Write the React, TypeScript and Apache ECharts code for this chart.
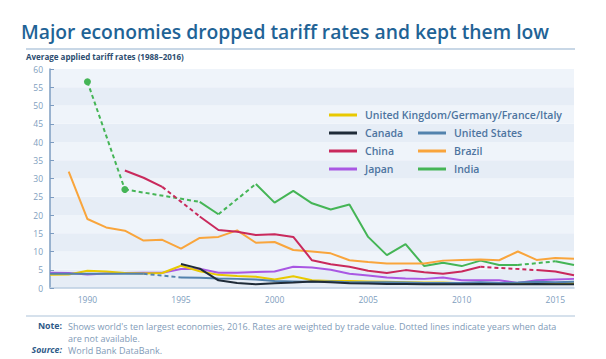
import React, { useEffect, useRef } from "react";
import * as echarts from "echarts";

const years = [
  "1988", "1989", "1990", "1991", "1992", "1993", "1994", "1995", "1996", "1997",
  "1998", "1999", "2000", "2001", "2002", "2003", "2004", "2005", "2006", "2007",
  "2008", "2009", "2010", "2011", "2012", "2013", "2014", "2015", "2016",
];

const euValues = [3.6, 3.7, 4.7, 4.5, 4.1, 4.0, 4.1, 6.1, 4.6, 3.6, 3.3, 3.1, 2.3, 3.2, 2.1, 1.9, 1.9, 1.8, 1.7, 1.6, 1.5, 1.5, 1.3, 1.4, 1.3, 1.2, 1.3, 1.3, 1.3];
const canadaValues = [null, null, null, null, null, null, null, 6.6, 5.3, 2.1, 1.4, 1.0, 1.3, 1.5, 1.8, 1.6, 1.3, 1.2, 1.1, 1.1, 1.0, 1.0, 1.0, 1.1, 1.0, 1.0, 1.1, 1.0, 1.0];
const usValues = [3.9, 3.9, 3.9, 3.9, 3.9, 3.9, null, 2.9, 2.8, 2.6, 2.5, 2.3, 1.9, 1.8, 1.7, 1.8, 1.6, 1.6, 1.6, 1.5, 1.4, 1.4, 1.4, 1.6, 1.4, 1.5, 1.7, 1.6, 1.7];
const chinaValues = [null, null, null, null, 32.2, 30.2, 27.7, null, 19.6, 15.9, 15.4, 14.5, 14.7, 14.0, 7.6, 6.5, 5.8, 4.7, 4.1, 4.9, 4.3, 3.9, 4.5, 5.8, null, null, 4.9, 4.5, 3.5];
const brazilValues = [null, 31.9, 18.9, 16.6, 15.7, 13.0, 13.2, 10.8, 13.7, 14.0, 15.8, 12.4, 12.6, 10.4, 10.0, 9.5, 7.6, 7.1, 6.7, 6.7, 6.7, 7.5, 7.7, 7.8, 7.6, 10.0, 7.7, 8.2, 8.0];
const japanValues = [4.2, 4.1, 3.7, 4.0, 4.1, 4.2, 4.2, 5.2, 5.3, 4.2, 4.2, 4.4, 4.5, 5.8, 5.6, 5.0, 3.9, 3.4, 2.9, 2.6, 2.5, 2.9, 2.1, 2.1, 2.1, 1.4, 2.1, 2.3, 2.5];
const indiaValues = [null, null, 56.5, null, 27.0, null, null, null, 23.6, 20.2, null, 28.5, 23.4, 26.6, 23.2, 21.5, 22.9, 14.0, 9.0, 12.0, 6.0, 6.9, 6.0, 7.5, 6.3, 6.3, null, 7.3, 6.3];

const yTicks = [0, 5, 10, 15, 20, 25, 30, 35, 40, 45, 50, 55, 60];

const countries = [
  { name: "India", color: "#45b556", values: indiaValues },
  { name: "Brazil", color: "#f9a53c", values: brazilValues },
  { name: "China", color: "#c9295c", values: chinaValues },
  { name: "Japan", color: "#a957e3", values: japanValues },
  { name: "United Kingdom/Germany/France/Italy", color: "#e8c900", values: euValues },
  { name: "United States", color: "#5282ad", values: usValues },
  { name: "Canada", color: "#1f2b38", values: canadaValues },
];

function buildSeries() {
  const out: any[] = [];
  countries.forEach((c, ci) => {
    const vals = c.values as (number | null)[];
    const data = vals.map((v, i) => {
      if (v == null) return null;
      const prev = i > 0 ? vals[i - 1] : null;
      const next = i < vals.length - 1 ? vals[i + 1] : null;
      const isolated = prev == null && next == null;
      return isolated ? { value: v, symbol: "circle", symbolSize: 7 } : { value: v, symbol: "none" };
    });
    out.push({
      name: c.name,
      type: "line",
      data,
      color: c.color,
      symbol: "none",
      showSymbol: true,
      connectNulls: false,
      lineStyle: { width: 2, color: c.color },
      itemStyle: { color: c.color },
      z: 3 + ci,
      silent: true,
    });
    let k = 0;
    for (let i = 0; i < vals.length; i++) {
      if (vals[i] == null) continue;
      let j = i + 1;
      while (j < vals.length && vals[j] == null) j++;
      if (j < vals.length && j > i + 1) {
        out.push({
          name: c.name + "-gap" + k++,
          type: "line",
          data: [
            [years[i], vals[i]],
            [years[j], vals[j]],
          ],
          symbol: "none",
          color: c.color,
          lineStyle: { width: 2, color: c.color, type: [4, 3] },
          z: 3 + ci,
          silent: true,
        });
      }
    }
  });
  return out;
}

const FONT = "'Open Sans', 'Noto Sans', sans-serif";
const legendText = { color: "#4d74a0", fontSize: 10.5, fontFamily: FONT, fontWeight: 600, lineHeight: 14, padding: [0, 0, 0, 3] };
const legendBase = {
  icon: "rect",
  itemWidth: 28,
  itemHeight: 3,
  selectedMode: false,
  orient: "vertical",
  itemGap: 4,
  padding: 0,
  textStyle: legendText,
};

export default function App() {
  const ref = useRef<HTMLDivElement>(null);
  useEffect(() => {
    if (!ref.current) return;
    const chart = echarts.init(ref.current, null, { renderer: "svg" });
    chart.setOption({
      animation: false,
      grid: { left: 50, right: 32, top: 69, bottom: 71, containLabel: false },
      legend: [
        { ...legendBase, data: ["United Kingdom/Germany/France/Italy"], left: 329, top: 108 },
        { ...legendBase, data: ["Canada", "China", "Japan"], left: 329, top: 126 },
        { ...legendBase, data: ["United States", "Brazil", "India"], left: 418, top: 126 },
      ],
      xAxis: {
        type: "category",
        data: years,
        boundaryGap: false,
        axisLine: { show: true, lineStyle: { color: "#bccee2", width: 1.5 } },
        axisTick: { show: false },
        axisLabel: {
          interval: (i: number, v: string) => Number(v) % 5 === 0,
          color: "#809ebe",
          fontSize: 8.5,
          fontFamily: FONT,
          margin: 7,
        },
        splitLine: { show: false },
      },
      yAxis: {
        type: "value",
        min: yTicks[0],
        max: yTicks[yTicks.length - 1],
        interval: 5,
        axisLine: { show: true, lineStyle: { color: "#7d9cc1", width: 1.5 } },
        axisTick: { show: true, inside: true, length: 4, lineStyle: { color: "#7d9cc1", width: 1 } },
        axisLabel: { color: "#809ebe", fontSize: 8.5, fontFamily: FONT, margin: 7 },
        splitLine: { show: false },
        splitArea: { show: true, areaStyle: { color: ["#e6edf6", "#eff4fa"] } },
      },
      series: buildSeries(),
      graphic: [
        {
          type: "text",
          left: 21,
          top: 22,
          style: {
            text: "Major economies dropped tariff rates and kept them low",
            fill: "#1f6396",
            fontSize: 19.3,
            fontWeight: 600,
            fontFamily: FONT,
          },
        },
        { type: "line", shape: { x1: 26, y1: 49, x2: 575, y2: 49 }, style: { stroke: "#c8d7e6", lineWidth: 2 } },
        {
          type: "text",
          left: 26,
          top: 52,
          style: {
            text: "Average applied tariff rates (1988\u20132016)",
            fill: "#2c4d70",
            fontSize: 8,
            fontWeight: 700,
            fontFamily: FONT,
          },
        },
        { type: "line", shape: { x1: 26, y1: 316, x2: 575, y2: 316 }, style: { stroke: "#c8d7e6", lineWidth: 1.5 } },
        {
          type: "text",
          x: 62,
          y: 326,
          style: { text: "Note:", fill: "#2e5a88", fontSize: 8.8, fontWeight: 700, fontFamily: FONT, align: "right", verticalAlign: "middle" },
        },
        {
          type: "text",
          x: 68,
          y: 326,
          style: {
            text: "Shows world's ten largest economies, 2016. Rates are weighted by trade value. Dotted lines indicate years when data",
            fill: "#7f9bb8",
            fontSize: 9,
            fontFamily: FONT,
            verticalAlign: "middle",
          },
        },
        {
          type: "text",
          x: 68,
          y: 338,
          style: { text: "are not available.", fill: "#7f9bb8", fontSize: 9, fontFamily: FONT, verticalAlign: "middle" },
        },
        {
          type: "text",
          x: 62,
          y: 350,
          style: { text: "Source:", fill: "#2e5a88", fontSize: 8.8, fontWeight: 700, fontStyle: "italic", fontFamily: FONT, align: "right", verticalAlign: "middle" },
        },
        {
          type: "text",
          x: 68,
          y: 350,
          style: { text: "World Bank DataBank.", fill: "#7f9bb8", fontSize: 9, fontFamily: FONT, verticalAlign: "middle" },
        },
      ],
    });
    return () => chart.dispose();
  }, []);
  return <div ref={ref} style={{ width: 606, height: 359, position: "absolute", left: 0, top: 0, background: "#fff" }} />;
}
